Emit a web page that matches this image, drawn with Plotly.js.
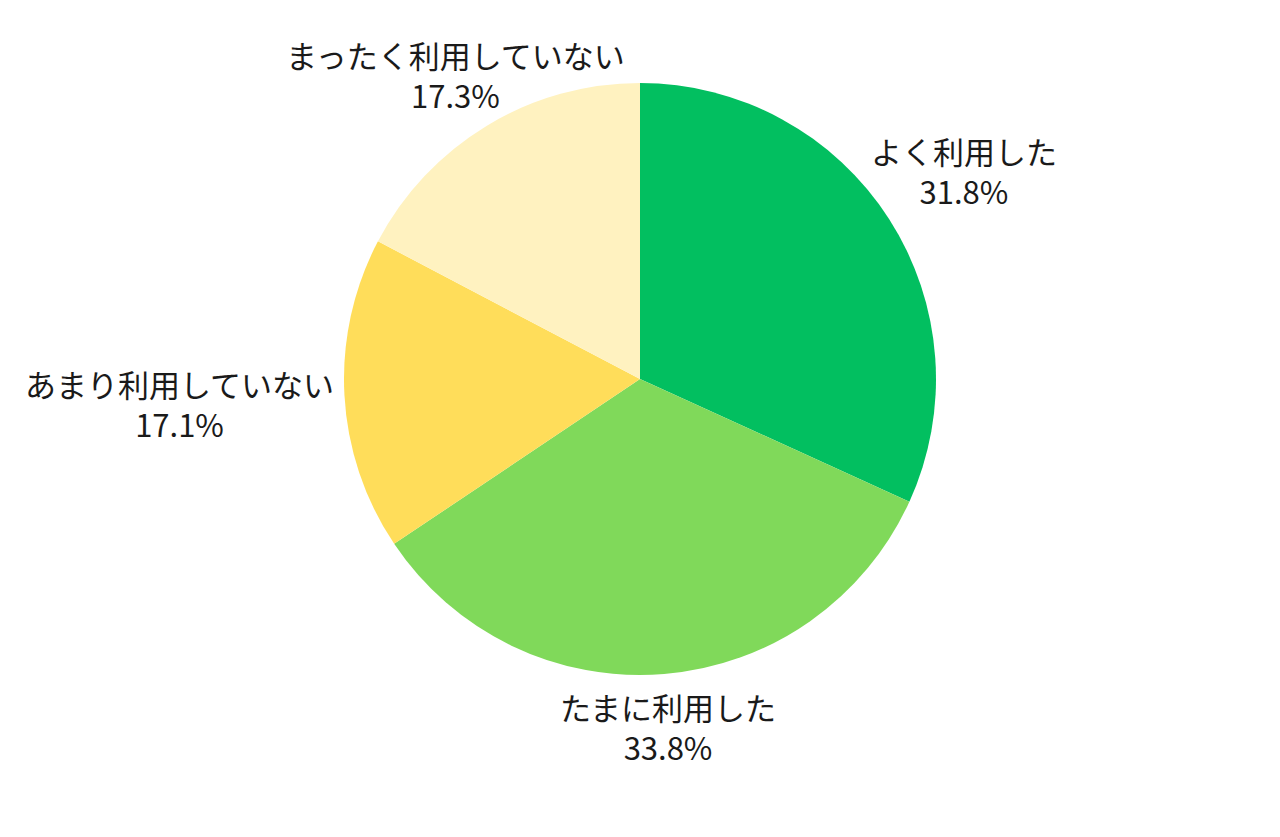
<!DOCTYPE html>
<html>
<head>
<meta charset="utf-8">
<script src="https://cdn.plot.ly/plotly-3.0.1.min.js"></script>
<style>
  html, body { margin: 0; padding: 0; background: #fff; }
  #chart { width: 1280px; height: 837px; }
</style>
</head>
<body>
<div id="chart"></div>
<script>
// Usage share pie — four answers, clockwise from 12 o'clock, labels outside on each slice's mid-angle.
const labels = ["よく利用した", "たまに利用した", "あまり利用していない", "まったく利用していない"];
const shares = [31.8, 33.8, 17.1, 17.3];
const colors = ["#02bf60", "#80d95a", "#ffdd5a", "#fff2c0"];

const W = 1280, H = 837;
const M = { l: 0, r: 0, t: 83, b: 162 };
const FONT = 31;
const GAP = 10;

const total = shares.reduce((a, b) => a + b, 0);
const radius = Math.min(W - M.l - M.r, H - M.t - M.b) / 2;

// unit vector (screen px, y down) along each slice's middle
let cum = 0;
const dirs = shares.map(v => {
  const a = (cum + v / 2) / total * 2 * Math.PI;
  cum += v;
  return [Math.sin(a), -Math.cos(a)];
});

const annotations = labels.map((lab, i) => ({
  xref: "paper", yref: "paper", x: 0.5, y: 0.5,
  xanchor: "center", yanchor: "middle",
  text: lab + "<br>" + shares[i].toFixed(1) + "%",
  showarrow: false,
  font: { size: FONT, color: "#1a1a1a" },
  xshift: dirs[i][0] * (radius + 60),
  yshift: -dirs[i][1] * (radius + 60),
}));

Plotly.newPlot("chart", [{
  type: "pie",
  labels: labels,
  values: shares,
  sort: false,
  direction: "clockwise",
  rotation: 0,
  marker: { colors: colors, line: { width: 0 } },
  textinfo: "none",
  hoverinfo: "none",
}], {
  width: W,
  height: H,
  margin: M,
  showlegend: false,
  paper_bgcolor: "#fff",
  font: { family: "'Noto Sans CJK JP', 'Noto Sans', sans-serif", size: FONT, color: "#1a1a1a" },
  annotations: annotations,
}, { staticPlot: true }).then(gd => {
  // push each label out until its box clears the pie edge by GAP
  const upd = {};
  gd.querySelectorAll(".annotation").forEach(g => {
    const i = +g.getAttribute("data-index");
    const t = g.querySelector(".annotation-text");
    if (!t) return;
    const bb = t.getBBox();
    const hw = bb.width / 2, hh = bb.height / 2;
    const [ux, uy] = dirs[i];
    const te = Math.min(Math.abs(ux) > 1e-6 ? hw / Math.abs(ux) : 1e9,
                        Math.abs(uy) > 1e-6 ? hh / Math.abs(uy) : 1e9);
    const d = radius + GAP + te;
    upd[`annotations[${i}].xshift`] = ux * d;
    upd[`annotations[${i}].yshift`] = -uy * d;
  });
  return Plotly.relayout(gd, upd);
});
</script>
</body>
</html>
